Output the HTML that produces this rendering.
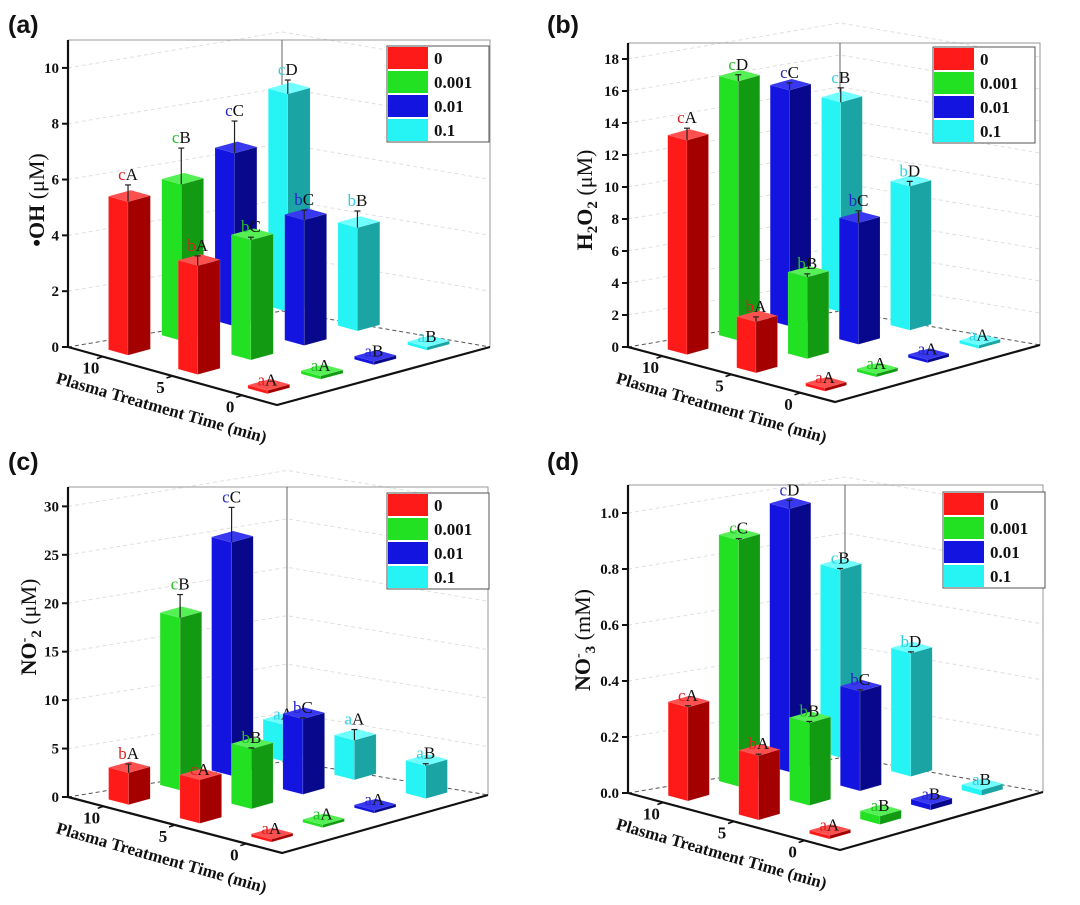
<!DOCTYPE html>
<html><head><meta charset="utf-8"><style>
html,body{margin:0;padding:0;background:#fff;}
svg{display:block;}
</style></head><body>
<svg id="fig" width="1080" height="905" viewBox="0 0 1080 905" xmlns="http://www.w3.org/2000/svg"></svg>
<script>
// ---------- data ----------
const concCategories = ["0","0.001","0.01","0.1"];
const timeCategories = ["10","5","0"];

const ohVals10 = [5.5, 5.6, 6.2, 7.8];
const ohVals5  = [3.9, 4.3, 4.5, 3.7];
const ohVals0  = [0.12, 0.12, 0.12, 0.12];
const ohErr10  = [0.6, 1.3, 1.15, 0.5];
const ohErr5   = [0.35, 0.1, 0.35, 0.6];
const ohErr0   = [0, 0, 0, 0];
const ohLab10  = ["cA","cB","cC","cD"];
const ohLab5   = ["bA","bC","bC","bB"];
const ohLab0   = ["aA","aA","aB","aB"];
const ohTicks  = [0,2,4,6,8,10];

const h2o2Vals10 = [13.4, 16.2, 14.75, 13.1];
const h2o2Vals5  = [3.2, 5.1, 7.6, 9.0];
const h2o2Vals0  = [0.2, 0.2, 0.2, 0.2];
const h2o2Err10  = [0.75, 0.4, 0.45, 0.9];
const h2o2Err5   = [0.3, 0.2, 0.75, 0.3];
const h2o2Err0   = [0, 0, 0, 0];
const h2o2Lab10  = ["cA","cD","cC","cB"];
const h2o2Lab5   = ["bA","bB","bC","bD"];
const h2o2Lab0   = ["aA","aA","aA","aA"];
const h2o2Ticks  = [0,2,4,6,8,10,12,14,16,18];

const no2Vals10 = [3.3, 17.8, 24.1, 3.8];
const no2Vals5  = [4.5, 6.2, 7.8, 4.1];
const no2Vals0  = [0.3, 0.3, 0.3, 3.4];
const no2Err10  = [0.9, 2.4, 3.6, 0];
const no2Err5   = [0, 0.1, 0.1, 1.1];
const no2Err0   = [0, 0, 0, 0.2];
const no2Lab10  = ["bA","cB","cC","aA"];
const no2Lab5   = ["cA","bB","bC","aA"];
const no2Lab0   = ["aA","aA","aA","aB"];
const no2Ticks  = [0,5,10,15,20,25,30];

const no3Vals10 = [0.335, 0.88, 0.94, 0.67];
const no3Vals5  = [0.23, 0.295, 0.356, 0.44];
const no3Vals0  = [0.012, 0.03, 0.02, 0.02];
const no3Err10  = [0.005, 0.005, 0.03, 0.005];
const no3Err5   = [0.005, 0.005, 0.005, 0.005];
const no3Err0   = [0, 0, 0, 0];
const no3Lab10  = ["cA","cC","cD","cB"];
const no3Lab5   = ["bA","bB","bC","bD"];
const no3Lab0   = ["aA","aB","aB","aB"];
const no3Ticks  = [0,0.2,0.4,0.6,0.8,1.0];

// ---------- drawing ----------
const NS = "http://www.w3.org/2000/svg";
const svg = document.getElementById("fig");
const FACE = [
  {light:"#ff1a1a", dark:"#a50000", top:"#ff5050", lab:"#e02020"},
  {light:"#22e022", dark:"#129a12", top:"#55f055", lab:"#22c022"},
  {light:"#1414e0", dark:"#08088c", top:"#3838f0", lab:"#2626c8"},
  {light:"#26f4f4", dark:"#1aa4a4", top:"#70ffff", lab:"#30d0e0"}
];
function el(tag, attrs, parent){
  const e = document.createElementNS(NS, tag);
  for (const k in attrs) e.setAttribute(k, attrs[k]);
  (parent||svg).appendChild(e);
  return e;
}
function pts(arr){ return arr.map(p=>p[0].toFixed(1)+","+p[1].toFixed(1)).join(" "); }

function drawPanel(cfg, vals, errs, labs, ticks, dec){
  const g = el("g", {});
  
  
  const A=[cfg.ax,cfg.ay], B=[cfg.bx,cfg.by], C=[cfg.cx,cfg.cy];
  const D=[B[0]+5, A[1]-36];
  const s = (A[1]-cfg.top)/cfg.ymax;
  const yv = v => v*s;
  const u=[(B[0]-A[0])/3,(B[1]-A[1])/3], w=[(C[0]-B[0])/4,(C[1]-B[1])/4];

  // gridlines
  ticks.forEach(t=>{
    if (t===0) return;
    const gl = el("polyline",{points:pts([[A[0],A[1]-yv(t)],[D[0],D[1]-yv(t)],[C[0],C[1]-yv(t)]]),fill:"none",stroke:"#e0e0e0","stroke-width":1,"stroke-dasharray":"4,3"},g);
    
    
  });
  // frame
  const fr = el("polyline",{points:pts([[A[0],cfg.top],[C[0],cfg.top],[C[0],C[1]]]),fill:"none",stroke:"#999","stroke-width":1},g);
  
  
  const bc = el("line",{x1:D[0],y1:cfg.top,x2:D[0],y2:D[1],stroke:"#666","stroke-width":1},g);
  
  
  const fd = el("polyline",{points:pts([A,D,C]),fill:"none",stroke:"#555","stroke-width":1,"stroke-dasharray":"4,3"},g);
  
  
  const ff = el("polyline",{points:pts([A,B,C]),fill:"none",stroke:"#111","stroke-width":2.2},g);
  
  
  const ya = el("line",{x1:A[0],y1:cfg.top,x2:A[0],y2:A[1],stroke:"#111","stroke-width":2.2},g);
  
  
  ticks.forEach(t=>{
    const y = A[1]-yv(t);
    const tk = el("line",{x1:A[0]-6,y1:y,x2:A[0],y2:y,stroke:"#111","stroke-width":2},g);
    
    
    const tl = el("text",{x:A[0]-9,y:y+5,"text-anchor":"end","font-family":"Liberation Serif, serif","font-weight":"bold","font-size":15,fill:"#111"},g);
    
    
    tl.textContent = t.toFixed(dec);
  });
  // depth ticks
  timeCategories.forEach((tc,i)=>{
    const p=[A[0]+(i+0.5)*u[0], A[1]+(i+0.5)*u[1]];
    const tk = el("line",{x1:p[0],y1:p[1],x2:p[0]-6,y2:p[1]+2,stroke:"#111","stroke-width":1.5},g);
    
    
    const tl = el("text",{x:p[0]-12,y:p[1]+17,"text-anchor":"middle","font-family":"Liberation Serif, serif","font-weight":"bold","font-size":17,fill:"#111"},g);
    
    
    tl.textContent = tc;
  });
  const xt = el("text",{x:0,y:0,"text-anchor":"middle","font-family":"Liberation Serif, serif","font-weight":"bold","font-size":17,fill:"#111",transform:`translate(${A[0]+92},${A[1]+66}) rotate(16)`},g);
  
  
  xt.textContent = "Plasma Treatment Time (min)";

  // bars, back row first
  for (let i=0;i<3;i++){
    for (let j=3;j>=0;j--){
      const c=[A[0]+(i+0.5)*u[0]+(j+0.5)*w[0], A[1]+(i+0.5)*u[1]+(j+0.5)*w[1]];
      const su=[0.14*u[0],0.14*u[1]], sv=[0.21*w[0],0.21*w[1]];
      const P1=[c[0]-su[0]-sv[0],c[1]-su[1]-sv[1]];
      const P2=[c[0]+su[0]-sv[0],c[1]+su[1]-sv[1]];
      const P3=[c[0]+su[0]+sv[0],c[1]+su[1]+sv[1]];
      const P4=[c[0]-su[0]+sv[0],c[1]-su[1]+sv[1]];
      const h = Math.max(yv(vals[i][j]),2);
      const up = p=>[p[0],p[1]-h];
      const f = FACE[j];
      const bg = el("g",{},g);
      
      
      el("polygon",{points:pts([P1,P2,up(P2),up(P1)]),fill:f.light,stroke:"rgba(255,255,255,0.25)","stroke-width":0.5},bg);
      el("polygon",{points:pts([P2,P3,up(P3),up(P2)]),fill:f.dark,stroke:"rgba(255,255,255,0.25)","stroke-width":0.5},bg);
      el("polygon",{points:pts([up(P1),up(P2),up(P3),up(P4)]),fill:f.top},bg);
      const topY = P2[1]-h;
      const eh = yv(errs[i][j]);
      const ex = P2[0];
      if (eh>0.5){
        const eb = el("line",{x1:ex,y1:topY,x2:ex,y2:topY-eh,stroke:"#222","stroke-width":1.2},g);
        
        
        const ec = el("line",{x1:ex-3,y1:topY-eh,x2:ex+3,y2:topY-eh,stroke:"#222","stroke-width":1.2},g);
        
        
      }
      const lt = el("text",{x:ex,y:topY-eh-5,"text-anchor":"middle","font-family":"Liberation Serif, serif","font-size":17},g);
      
      
      const t1 = el("tspan",{fill:f.lab},lt); t1.textContent = labs[i][j][0];
      const t2 = el("tspan",{fill:"#111"},lt); t2.textContent = labs[i][j][1];
    }
  }
  // legend
  const lg = el("g",{},g);
  
  
  el("rect",{x:cfg.lx,y:cfg.ly,width:102,height:96,fill:"#fff",stroke:"#555","stroke-width":1},lg);
  concCategories.forEach((cc,j)=>{
    const r = el("rect",{x:cfg.lx+1,y:cfg.ly+1+j*24,width:40,height:22,fill:FACE[j].light},lg);
    
    
    const t = el("text",{x:cfg.lx+47,y:cfg.ly+18+j*24,"font-family":"Liberation Serif, serif","font-weight":"bold","font-size":17,fill:"#111"},lg);
    
    
    t.textContent = cc;
  });
  // panel letter
  const pl = el("text",{x:cfg.px,y:cfg.py,"font-family":"Liberation Sans, sans-serif","font-weight":"bold","font-size":25,fill:"#111"},g);
  
  
  pl.textContent = cfg.letter;
  // y title
  const yt = el("text",{x:0,y:0,"text-anchor":"middle","font-family":"Liberation Serif, serif","font-weight":"bold","font-size":22,fill:"#111",transform:`translate(${cfg.tx},${cfg.ty}) rotate(-90)`},g);
  
  
  yt.innerHTML = cfg.title;
}

drawPanel({name:"panel-a-oh",letter:"(a)",px:8,py:33,ax:68,ay:347,bx:277,by:405,cx:490,cy:347,top:40,ymax:11,lx:387,ly:46,tx:44,ty:200,
  title:'•OH <tspan font-weight="normal">(μM)</tspan>'},
  [ohVals10,ohVals5,ohVals0],[ohErr10,ohErr5,ohErr0],[ohLab10,ohLab5,ohLab0],ohTicks,0);
drawPanel({name:"panel-b-h2o2",letter:"(b)",px:547,py:33,ax:628,ay:347,bx:835,by:402,cx:1040,cy:345,top:43,ymax:19,lx:933,ly:47,tx:592,ty:200,
  title:'H<tspan font-size="15" dy="5">2</tspan><tspan dy="-5">O</tspan><tspan font-size="15" dy="5">2</tspan><tspan dy="-5" font-weight="normal"> (μM)</tspan>'},
  [h2o2Vals10,h2o2Vals5,h2o2Vals0],[h2o2Err10,h2o2Err5,h2o2Err0],[h2o2Lab10,h2o2Lab5,h2o2Lab0],h2o2Ticks,0);
drawPanel({name:"panel-c-no2",letter:"(c)",px:8,py:470,ax:68,ay:797,bx:282,by:853,cx:488,cy:795,top:487,ymax:32,lx:387,ly:493,tx:36,ty:627,
  title:'NO<tspan font-size="14" dy="-8">-</tspan><tspan font-size="15" dy="13">2</tspan><tspan dy="-5" font-weight="normal"> (μM)</tspan>'},
  [no2Vals10,no2Vals5,no2Vals0],[no2Err10,no2Err5,no2Err0],[no2Lab10,no2Lab5,no2Lab0],no2Ticks,0);
drawPanel({name:"panel-d-no3",letter:"(d)",px:547,py:470,ax:628,ay:793,bx:840,by:850,cx:1043,cy:792,top:485,ymax:1.1,lx:943,ly:492,tx:590,ty:640,
  title:'NO<tspan font-size="14" dy="-8">-</tspan><tspan font-size="15" dy="13">3</tspan><tspan dy="-5" font-weight="normal"> (mM)</tspan>'},
  [no3Vals10,no3Vals5,no3Vals0],[no3Err10,no3Err5,no3Err0],[no3Lab10,no3Lab5,no3Lab0],no3Ticks,1);
</script>
</body></html>
